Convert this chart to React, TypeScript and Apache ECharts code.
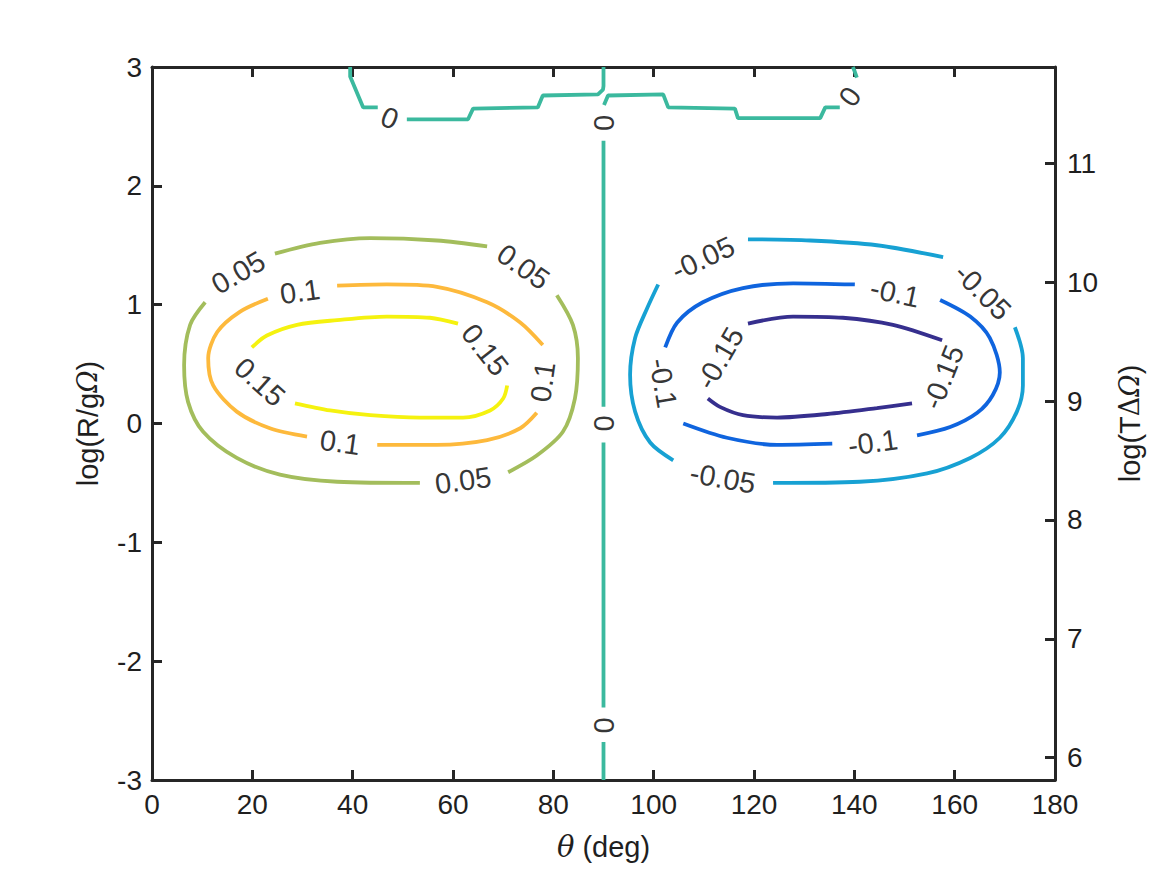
import React, { useEffect, useRef } from "react";
import * as echarts from "echarts";

// ---- Axis ticks / ranges ----
const xTicksMin = 0;
const xTicksMax = 180;
const xTickStep = 20;
const yLeftMin = -3;
const yLeftMax = 3;
const yRightMin = 5.812;
const yRightMax = 11.812;

// ---- Contour levels and colours ----
const levelNames = ["0.15", "0.1", "0.05", "0", "-0.05", "-0.1", "-0.15"];
const levelColors = ["#F5F20F", "#FDB93C", "#A3BD5C", "#3BB99E", "#17A1D3", "#0F64DE", "#362F8E"];

// ---- Contour segments (theta deg, log(R/gΩ)) ----
const seg015 = [
  [[19.9, 0.64], [22.9, 0.74], [28.9, 0.83], [36.9, 0.87], [46.8, 0.9], [55.4, 0.89], [61.0, 0.84]],
  [[70.8, 0.32], [70.0, 0.21], [67.4, 0.11], [62.0, 0.05], [53.4, 0.05], [43.5, 0.07], [35.5, 0.11], [28.5, 0.17]],
];
const seg010 = [
  [[36.9, 1.16], [46.8, 1.17], [56.8, 1.15], [66.8, 1.02], [73.4, 0.85], [77.9, 0.66]],
  [[76.7, 0.09], [73.4, -0.04], [66.8, -0.14], [56.8, -0.18], [44.9, -0.18]],
  [[30.9, -0.11], [23.5, -0.04], [16.9, 0.1], [12.2, 0.32], [11.2, 0.55], [13.0, 0.77], [17.5, 0.94], [23.1, 1.05]],
];
const seg005 = [
  [[10.6, 1.02], [7.6, 0.83], [6.4, 0.49], [7.2, 0.18], [10.2, -0.07], [16.9, -0.29], [25.5, -0.43], [36.9, -0.49], [53.4, -0.5]],
  [[71.0, -0.41], [76.7, -0.27], [81.9, -0.07], [84.3, 0.21], [84.9, 0.55], [83.9, 0.83], [80.7, 1.08]],
  [[66.8, 1.49], [56.8, 1.54], [43.5, 1.56], [33.5, 1.52], [24.5, 1.43]],
];
const seg000 = [
  [[39.5, 3.0], [39.5, 2.92], [42.1, 2.66], [45.0, 2.66]],
  [[50.8, 2.56], [63.0, 2.56], [64.0, 2.65], [76.9, 2.66], [77.9, 2.76], [88.9, 2.77], [89.9, 2.81], [90.0, 2.84], [90.0, 3.0]],
  [[90.1, 2.68], [90.9, 2.76], [101.9, 2.77], [102.9, 2.66], [116.2, 2.65], [116.8, 2.57], [133.2, 2.57], [134.2, 2.66], [137.1, 2.66]],
  [[140.5, 2.91], [140.1, 2.96], [139.7, 3.0]],
  [[90.0, 2.38], [90.0, 0.14]],
  [[90.0, -0.16], [90.0, -2.39]],
  [[90.0, -2.68], [90.0, -3.0]],
];
const segM005 = [
  [[118.8, 1.55], [131.2, 1.54], [144.5, 1.5], [157.7, 1.4]],
  [[172.0, 0.81], [173.6, 0.55], [173.6, 0.32], [172.4, 0.1], [169.0, -0.12], [163.1, -0.29], [154.5, -0.42], [141.1, -0.49], [123.8, -0.5]],
  [[103.9, -0.31], [99.3, -0.16], [96.3, 0.1], [95.3, 0.41], [96.3, 0.72], [98.7, 0.97], [100.9, 1.17]],
];
const segM010 = [
  [[102.3, 0.64], [104.7, 0.85], [109.8, 1.02], [117.8, 1.14], [127.8, 1.18], [140.1, 1.17]],
  [[157.1, 1.04], [163.1, 0.9], [167.0, 0.72], [169.0, 0.43], [167.6, 0.24], [164.5, 0.09], [159.1, -0.03], [152.5, -0.1]],
  [[135.6, -0.17], [124.6, -0.18], [114.6, -0.12], [105.9, 0.0]],
];
const segM015 = [
  [[118.8, 0.84], [127.8, 0.9], [137.7, 0.89], [147.7, 0.83], [157.5, 0.7]],
  [[151.5, 0.17], [144.5, 0.13], [134.6, 0.08], [124.6, 0.05], [117.8, 0.07], [113.2, 0.14], [110.8, 0.21]],
];
const levelSegments = [seg015, seg010, seg005, seg000, segM005, segM010, segM015];

// ---- Contour labels: [theta, y, rotation] per level ----
const lab015 = [[66.4, 0.62, -52], [21.5, 0.35, -42]];
const lab010 = [[29.5, 1.11, 8], [77.9, 0.35, 82], [37.5, -0.16, -8]];
const lab005 = [[17.2, 1.27, 30], [62.0, -0.48, 8], [74.0, 1.32, -35]];
const lab000 = [[47.4, 2.57, -22], [139.1, 2.75, 55], [90.0, 2.53, 90], [90.0, 0.0, 90], [90.0, -2.54, 90]];
const labM005 = [[109.8, 1.39, 25], [165.6, 1.11, -45], [113.8, -0.46, -10]];
const labM010 = [[148.1, 1.1, -12], [143.7, -0.16, 8], [101.9, 0.34, -80]];
const labM015 = [[157.7, 0.39, 68], [113.2, 0.55, 60]];
const levelLabels = [lab015, lab010, lab005, lab000, labM005, labM010, labM015];

const FONT = "'Liberation Sans', Arial, Helvetica, sans-serif";
const AXIS_COLOR = "#262626";

function buildOption() {
  const series: any[] = [];
  levelSegments.forEach((segs, li) => {
    segs.forEach((seg) => {
      series.push({
        type: "line",
        data: seg,
        showSymbol: false,
        symbol: "none",
        smooth: li === 3 ? false : 0.3,
        silent: true,
        lineStyle: { color: levelColors[li], width: 3.8 },
        xAxisIndex: 0,
        yAxisIndex: 0,
        z: 2,
      });
    });
  });
  const labelData: any[] = [];
  levelLabels.forEach((labs, li) => {
    labs.forEach((l) => {
      labelData.push({
        name: levelNames[li],
        value: [l[0], l[1]],
        label: { rotate: l[2] },
      });
    });
  });
  series.push({
    type: "scatter",
    data: labelData,
    symbol: "circle",
    symbolSize: 0.1,
    silent: true,
    itemStyle: { color: "rgba(0,0,0,0)" },
    label: {
      show: true,
      position: "inside",
      formatter: (p: any) => p.name,
      color: "#000",
      fontSize: 29,
      fontFamily: FONT,
    },
    xAxisIndex: 0,
    yAxisIndex: 0,
    z: 5,
  });

  const tickStyle = { show: true, inside: true, length: 10, lineStyle: { color: AXIS_COLOR, width: 3 } };
  const lineStyle = { show: true, onZero: false, lineStyle: { color: AXIS_COLOR, width: 3 } };
  const labelStyle = { color: "#1f1f1f", fontSize: 28, fontFamily: FONT };

  return {
    animation: false,
    backgroundColor: "#fff",
    grid: { left: 152, right: 112, top: 67, bottom: 95, containLabel: false },
    xAxis: [
      {
        type: "value",
        position: "bottom",
        min: xTicksMin,
        max: xTicksMax,
        interval: xTickStep,
        axisLine: lineStyle,
        axisTick: tickStyle,
        splitLine: { show: false },
        axisLabel: { ...labelStyle, margin: 10 },
        name: "{i|θ} (deg)",
        nameLocation: "middle",
        nameGap: 52,
        nameTextStyle: {
          color: "#1f1f1f",
          fontSize: 29,
          fontFamily: FONT,
          rich: { i: { fontFamily: "'DejaVu Serif', serif", fontStyle: "italic", fontSize: 29, color: "#1f1f1f" } },
        },
      },
      {
        type: "value",
        position: "top",
        min: xTicksMin,
        max: xTicksMax,
        interval: xTickStep,
        axisLine: lineStyle,
        axisTick: tickStyle,
        splitLine: { show: false },
        axisLabel: { show: false },
      },
    ],
    yAxis: [
      {
        type: "value",
        position: "left",
        min: yLeftMin,
        max: yLeftMax,
        interval: 1,
        axisLine: lineStyle,
        axisTick: tickStyle,
        splitLine: { show: false },
        axisLabel: { ...labelStyle, margin: 10 },
        name: "log(R/g{g|Ω})",
        nameLocation: "middle",
        nameGap: 50,
        nameRotate: 90,
        nameTextStyle: {
          color: "#1f1f1f",
          fontSize: 29,
          fontFamily: FONT,
          rich: { g: { fontFamily: "'DejaVu Serif', serif", fontStyle: "italic", fontSize: 27, color: "#1f1f1f" } },
        },
      },
      {
        type: "value",
        position: "right",
        min: yRightMin,
        max: yRightMax,
        splitNumber: 6,
        axisLine: lineStyle,
        axisTick: tickStyle,
        splitLine: { show: false },
        axisLabel: {
          ...labelStyle,
          margin: 12,
          showMinLabel: false,
          showMaxLabel: false,
          formatter: (v: number) => (Math.abs(v - Math.round(v)) < 1e-6 ? String(Math.round(v)) : ""),
        },
        name: "log(T{d|Δ}{g|Ω})",
        nameLocation: "middle",
        nameGap: 60,
        nameRotate: 90,
        nameTextStyle: {
          color: "#1f1f1f",
          fontSize: 29,
          fontFamily: FONT,
          rich: {
            d: { fontFamily: "'DejaVu Serif', serif", fontSize: 27, color: "#1f1f1f" },
            g: { fontFamily: "'DejaVu Serif', serif", fontStyle: "italic", fontSize: 27, color: "#1f1f1f" },
          },
        },
      },
    ],
    series,
  };
}

export default function App() {
  const ref = useRef<HTMLDivElement>(null);
  useEffect(() => {
    if (!ref.current) return;
    const chart = echarts.init(ref.current, null, { renderer: "svg" });
    chart.setOption(buildOption() as any);
    return () => chart.dispose();
  }, []);
  return (
    <div
      ref={ref}
      style={{ position: "absolute", left: 0, top: 0, width: 1167, height: 875, background: "#fff" }}
    />
  );
}
